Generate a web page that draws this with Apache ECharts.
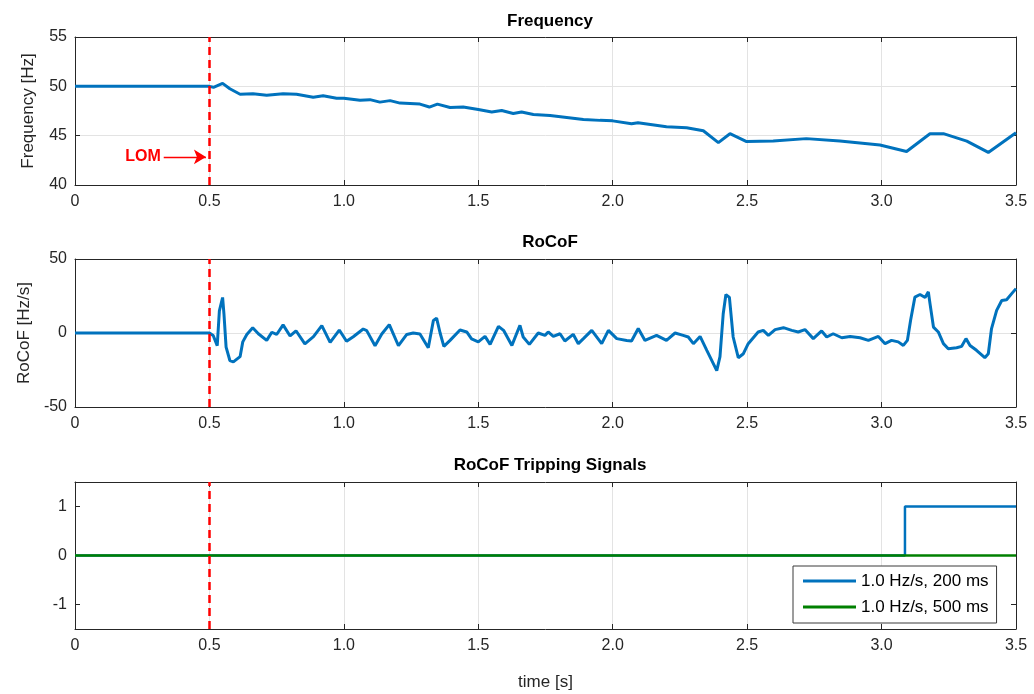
<!DOCTYPE html>
<html>
<head>
<meta charset="utf-8">
<script src="https://cdn.jsdelivr.net/npm/echarts@6/dist/echarts.min.js"></script>
<style>html,body{margin:0;padding:0;background:#fff}#c{width:1034px;height:694px}</style>
</head>
<body>
<div id="c"></div>
<script>
// ---- data ----
const xTicks = [0, 0.5, 1.0, 1.5, 2.0, 2.5, 3.0, 3.5];
const tripYTicks = [-1, 0, 1];
const lomTime = 0.5;

const freqT = [0, 0.5, 0.515, 0.549, 0.576, 0.614, 0.662, 0.713, 0.774, 0.824, 0.886, 0.923, 0.973, 1.0, 1.06, 1.097, 1.134, 1.172, 1.209, 1.283, 1.318, 1.348, 1.395, 1.444, 1.5, 1.55, 1.587, 1.63, 1.661, 1.705, 1.767, 1.829, 1.891, 1.953, 2.0, 2.07, 2.094, 2.2, 2.275, 2.337, 2.393, 2.436, 2.498, 2.597, 2.72, 2.845, 2.994, 3.093, 3.18, 3.23, 3.317, 3.397, 3.5];
const freqV = [50, 50, 49.9, 50.3, 49.75, 49.2, 49.25, 49.1, 49.25, 49.2, 48.9, 49.05, 48.8, 48.8, 48.6, 48.65, 48.4, 48.55, 48.3, 48.2, 47.9, 48.2, 47.85, 47.9, 47.65, 47.4, 47.55, 47.25, 47.4, 47.15, 47.05, 46.85, 46.65, 46.55, 46.5, 46.2, 46.3, 45.9, 45.8, 45.5, 44.3, 45.2, 44.4, 44.45, 44.7, 44.45, 44.05, 43.4, 45.2, 45.2, 44.45, 43.3, 45.3];

const rocofT = [0, 0.5, 0.514, 0.529, 0.537, 0.549, 0.554, 0.562, 0.576, 0.589, 0.614, 0.624, 0.639, 0.661, 0.682, 0.713, 0.732, 0.75, 0.774, 0.8, 0.822, 0.855, 0.887, 0.918, 0.949, 0.983, 1.01, 1.035, 1.072, 1.085, 1.116, 1.141, 1.169, 1.203, 1.234, 1.258, 1.283, 1.314, 1.333, 1.345, 1.358, 1.372, 1.395, 1.432, 1.457, 1.475, 1.5, 1.525, 1.544, 1.575, 1.594, 1.625, 1.655, 1.667, 1.69, 1.723, 1.748, 1.76, 1.779, 1.804, 1.822, 1.853, 1.872, 1.891, 1.922, 1.959, 1.984, 2.015, 2.052, 2.07, 2.095, 2.12, 2.163, 2.2, 2.232, 2.262, 2.281, 2.3, 2.325, 2.35, 2.387, 2.399, 2.411, 2.421, 2.434, 2.448, 2.467, 2.486, 2.504, 2.541, 2.56, 2.579, 2.604, 2.635, 2.666, 2.69, 2.715, 2.746, 2.777, 2.796, 2.82, 2.852, 2.883, 2.92, 2.951, 2.988, 3.013, 3.037, 3.062, 3.081, 3.096, 3.108, 3.124, 3.143, 3.162, 3.174, 3.18, 3.193, 3.211, 3.23, 3.248, 3.279, 3.298, 3.314, 3.329, 3.353, 3.384, 3.397, 3.409, 3.428, 3.447, 3.465, 3.484, 3.5];
const rocofV = [0, 0, -1.7, -8.5, 15, 24, 13, -9.6, -18.6, -19.5, -16, -6, -1, 3.5, -0.5, -5, 0.5, -1, 5.5, -2, 1.5, -7.3, -2.5, 5, -6.3, 2, -5.6, -2.5, 2.7, 1.6, -8.6, -0.7, 5.7, -8.6, -1, 0, -0.7, -10, 8.5, 10, 0, -9, -5, 2, 0.7, -4, -6, -2.3, -7.7, 4.5, 1.8, -8.4, 5.2, -2.7, -7.7, 0, -1.6, 0.7, -2.3, -0.5, -5.4, -0.9, -7.2, -3.8, 1.8, -7.2, 1.8, -3.8, -5, -5.4, 3, -5, -1.6, -5, 0, -1.6, -2.7, -7.2, -2.3, -11.7, -25.4, -16, 13, 26, 24, -2.7, -16.7, -14, -7.2, 0.7, 1.8, -1.6, 2.3, 3.6, 1.8, 0.7, 2.3, -3.8, 1.4, -2.7, -0.5, -3.2, -2.3, -3.2, -5, -2.3, -7.2, -5, -6, -8.4, -5, 8.6, 24.3, 26, 24, 27.8, 20, 4, 0.7, -7.2, -10.6, -10, -9, -3.8, -8.4, -11.7, -16.7, -14, 3, 15.3, 22, 22.5, 26.6, 30];

const tripT = [0, 3.087, 3.087, 3.5];
const trip200 = [0, 0, 1, 1];
const trip500T = [0, 3.5];
const trip500 = [0, 0];

const lomArrowT = [0.33, 0.487];
const lomArrowF = 42.85;

// ---- chart ----
const FONT = 'Liberation Sans, Arial, sans-serif';
const AX = '#262626';
const GRIDC = '#e3e3e3';
const BLUE = '#0072BD';
const GREEN = '#008000';
const RED = '#FF0000';
const zip = (a, b) => a.map((v, i) => [v, b[i]]);

const grids = [
  {left: 75, right: 18, top: 37, height: 148},
  {left: 75, right: 18, top: 259, height: 148},
  {left: 75, right: 18, top: 482, height: 147}
];
// the third panel uses a 0.5 step (min -1.5 is a multiple of it) but only marks whole values
const yDefs = [
  {min: 40, max: 55, interval: 5, name: 'Frequency [Hz]', grid: [GRIDC], ticks: null},
  {min: -50, max: 50, interval: 50, name: 'RoCoF [Hz/s]', grid: [GRIDC], ticks: null},
  {min: -1.5, max: 1.5, interval: 0.5, name: '', grid: ['rgba(0,0,0,0)', GRIDC], ticks: tripYTicks}
];
const xFmt = v => v === 0 ? '0' : v.toFixed(1);
const yFmt = v => (Math.abs(v - Math.round(v)) < 1e-9 ? String(Math.round(v)) : '');

const xAxes = [], yAxes = [];
for (let i = 0; i < 3; i++) {
  xAxes.push({
    type: 'value', gridIndex: i, min: 0, max: 3.5, interval: 0.5,
    axisLine: {show: true, onZero: false, lineStyle: {color: AX, width: 1}},
    axisTick: {show: true, inside: true, length: 5, lineStyle: {color: AX}},
    axisLabel: {color: AX, fontSize: 16, fontFamily: FONT, margin: 9, formatter: xFmt, showMinLabel: true, showMaxLabel: true},
    splitLine: {show: true, lineStyle: {color: GRIDC, width: 1}},
    name: i === 2 ? 'time [s]' : '', nameLocation: 'middle', nameGap: 45,
    nameTextStyle: {color: AX, fontSize: 17, fontFamily: FONT}
  });
  xAxes.push({
    type: 'value', gridIndex: i, min: 0, max: 3.5, interval: 0.5, position: 'top',
    axisLine: {show: true, onZero: false, lineStyle: {color: AX, width: 1}},
    axisTick: {show: true, inside: true, length: 5, lineStyle: {color: AX}},
    axisLabel: {show: false}, splitLine: {show: false}
  });
  const d = yDefs[i];
  const tick = {show: true, inside: true, length: 5, lineStyle: {color: AX}};
  const lab = {color: AX, fontSize: 16, fontFamily: FONT, margin: 8, formatter: yFmt};
  if (d.ticks) { tick.customValues = d.ticks; lab.customValues = d.ticks; }
  yAxes.push({
    type: 'value', gridIndex: i, min: d.min, max: d.max, interval: d.interval,
    axisLine: {show: true, onZero: false, lineStyle: {color: AX, width: 1}},
    axisTick: tick,
    axisLabel: lab,
    splitLine: {show: true, lineStyle: {color: d.grid, width: 1}},
    name: d.name, nameLocation: 'middle', nameGap: 38, nameRotate: 90,
    nameTextStyle: {color: AX, fontSize: 17, fontFamily: FONT}
  });
  const tick2 = Object.assign({}, tick);
  yAxes.push({
    type: 'value', gridIndex: i, min: d.min, max: d.max, interval: d.interval, position: 'right',
    axisLine: {show: true, onZero: false, lineStyle: {color: AX, width: 1}},
    axisTick: tick2,
    axisLabel: {show: false}, splitLine: {show: false}
  });
}

const lomLine = {
  silent: true, symbol: 'none', animation: false,
  lineStyle: {color: RED, type: [8, 5], width: 2.5},
  label: {show: false},
  data: [{xAxis: lomTime}]
};

const titleStyle = {color: '#000', fontSize: 17, fontWeight: 'bold', fontFamily: FONT};

const option = {
  animation: false,
  backgroundColor: '#fff',
  title: [
    {text: 'Frequency', left: 545, top: 8, textAlign: 'center', textStyle: titleStyle},
    {text: 'RoCoF', left: 545, top: 229, textAlign: 'center', textStyle: titleStyle},
    {text: 'RoCoF Tripping Signals', left: 545, top: 452, textAlign: 'center', textStyle: titleStyle}
  ],
  grid: grids,
  xAxis: xAxes,
  yAxis: yAxes,
  legend: {
    left: 793, top: 566, orient: 'vertical',
    backgroundColor: '#fff', borderColor: '#3a3a3a', borderWidth: 1,
    padding: [5, 8, 6, 10], itemGap: 6, itemWidth: 53, itemHeight: 3, icon: 'rect',
    textStyle: {color: '#000', fontSize: 17, lineHeight: 20, fontFamily: FONT},
    data: ['1.0 Hz/s, 200 ms', '1.0 Hz/s, 500 ms']
  },
  series: [
    {
      type: 'line', xAxisIndex: 0, yAxisIndex: 0, data: zip(freqT, freqV),
      symbol: 'none', lineStyle: {color: BLUE, width: 3}, itemStyle: {color: BLUE},
      markLine: {
        silent: true, animation: false, symbol: 'none',
        data: [
          {xAxis: lomTime, lineStyle: {color: RED, type: [8, 5], width: 2.5}, label: {show: false}},
          [
            {coord: [lomArrowT[0], lomArrowF], symbol: 'none'},
            {coord: [lomArrowT[1], lomArrowF], symbol: 'arrow', symbolSize: [11, 12],
              lineStyle: {color: RED, type: 'solid', width: 1.3},
              label: {show: true, position: 'start', formatter: 'LOM', color: RED, fontSize: 16, fontWeight: 'bold', fontFamily: FONT, distance: 3}}
          ]
        ]
      }
    },
    {
      type: 'line', xAxisIndex: 2, yAxisIndex: 2, data: zip(rocofT, rocofV),
      symbol: 'none', lineStyle: {color: BLUE, width: 3}, itemStyle: {color: BLUE},
      markLine: lomLine
    },
    {
      name: '1.0 Hz/s, 200 ms',
      type: 'line', xAxisIndex: 4, yAxisIndex: 4, data: zip(tripT, trip200),
      symbol: 'none', lineStyle: {color: BLUE, width: 2.5}, itemStyle: {color: BLUE},
      markLine: lomLine
    },
    {
      name: '1.0 Hz/s, 500 ms',
      type: 'line', xAxisIndex: 4, yAxisIndex: 4, data: zip(trip500T, trip500),
      symbol: 'none', lineStyle: {color: GREEN, width: 2.5}, itemStyle: {color: GREEN}
    }
  ]
};

const chart = echarts.init(document.getElementById('c'), null, {renderer: 'canvas'});
chart.setOption(option);
</script>
</body>
</html>
